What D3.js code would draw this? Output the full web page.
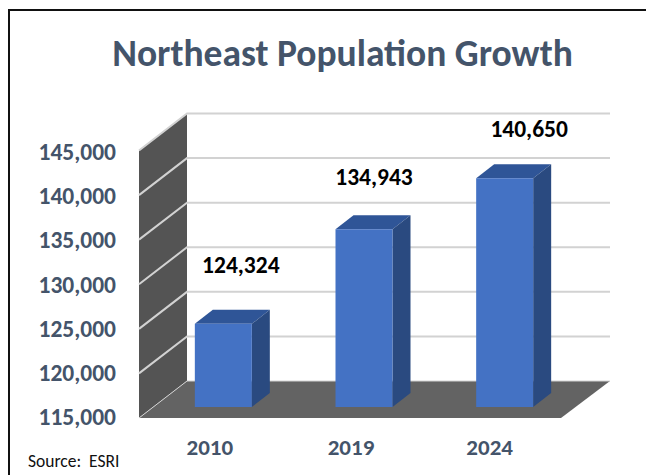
<!DOCTYPE html>
<html><head><meta charset="utf-8">
<script src="https://cdn.jsdelivr.net/npm/d3@7/dist/d3.min.js"></script>
<style>html,body{margin:0;padding:0;background:#fff}svg{display:block;font-family:Carlito,Calibri,"Open Sans","Noto Sans",sans-serif}text{white-space:pre}</style>
</head><body><svg id="c" width="646" height="475"></svg>
<script>
const categories=["2010","2019","2024"];
const values=[124324,134943,140650];
const dataLabels=["124,324","134,943","140,650"];
const tickValues=[115000,120000,125000,130000,135000,140000,145000];
const titleText="Northeast Population Growth";
const sourceText="Source:  ESRI";

const svg=d3.select("#c");
const dx=48,dy=-37;
const y=d3.scaleLinear().domain([115000,145000]).range([418,150.5]);
const yLabel=d3.scaleLinear().domain([115000,145000]).range([425,160]);
const x=d3.scaleBand().domain(categories).range([139,561]);
const barW=57,dOff=[14,-11],bD=[18,-14];
const cTop="#2f5597",cSide="#2a4a80",cFront="#4472c4";
const txt="#44546a";

svg.append("path").attr("d","M646,10H9V475").attr("fill","none").attr("stroke","#111").attr("stroke-width",2);
svg.append("text").attr("x",342.5).attr("y",66).attr("text-anchor","middle").attr("font-size",37.5).attr("font-weight",700).attr("fill",txt).text(titleText);

const poly=(pts,f,o)=>svg.append("polygon").attr("points",pts.map(p=>p.join(",")).join(" ")).attr("fill",f).attr("stroke",o||"none");
const x0=139,x1=561;
poly([[x0,y(115000)],[x0+dx,y(115000)+dy],[x1+dx+1,y(115000)+dy],[x1,y(115000)]],"#636363");
poly([[x0,y(145000)],[x0+dx,y(145000)+dy],[x0+dx,y(115000)+dy],[x0,y(115000)]],"#545454");
tickValues.forEach(t=>{
  svg.append("polyline").attr("fill","none").attr("stroke","#d2d2d2").attr("stroke-width",t===115000?1:2)
   .attr("points",[[x0,y(t)],[x0+dx,y(t)+dy],[x1+dx+1,y(t)+dy]].map(p=>p.join(",")).join(" "));
});
categories.forEach((c,i)=>{
  const l=x(c)+x.bandwidth()/2-barW/2+dOff[0], r=l+barW;
  const b=y(115000)+dOff[1], t=y(values[i])+dOff[1];
  poly([[l,t],[l+bD[0],t+bD[1]],[r+bD[0],t+bD[1]],[r,t]],cTop);
  poly([[r,t],[r+bD[0],t+bD[1]],[r+bD[0],b+bD[1]],[r,b]],cSide);
  poly([[l,t],[r,t],[r,b],[l,b]],cFront);
});
svg.selectAll(".yt").data(tickValues).join("text").attr("x",116).attr("y",d=>yLabel(d)).attr("text-anchor","end")
 .attr("font-size",23.5).attr("font-weight",700).attr("fill",txt).text(d=>d3.format(",")(d));
svg.selectAll(".xt").data(categories).join("text").attr("x",(d,i)=>x(d)+x.bandwidth()/2+[0.5,1,-1][i]).attr("y",455).attr("text-anchor","middle")
 .attr("font-size",23).attr("font-weight",700).attr("fill",txt).text(d=>d);
svg.selectAll(".dl").data(categories).join("text").attr("x",(d,i)=>x(d)+x.bandwidth()/2+[31.5,24,38.5][i]).attr("y",(d,i)=>y(values[i])+[-62,-55,-52][i])
 .attr("text-anchor","middle").attr("font-size",23.5).attr("font-weight",700).attr("fill","#000").text((d,i)=>dataLabels[i]);
svg.append("text").attr("x",28).attr("y",467).attr("font-size",17.5).attr("fill","#111").text(sourceText);
</script></body></html>
